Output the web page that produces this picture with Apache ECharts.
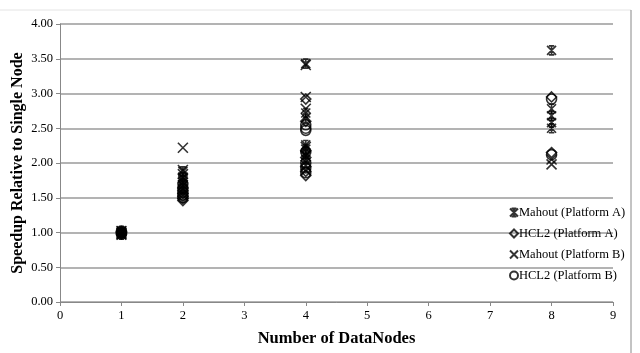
<!DOCTYPE html>
<html><head><meta charset="utf-8">
<script src="https://cdn.jsdelivr.net/npm/echarts@6/dist/echarts.min.js"></script>
<style>html,body{margin:0;padding:0;background:#fff}#c{width:640px;height:353px}</style>
</head><body><div id="c"></div>
<script>
var seriesNames = ['Mahout (Platform A)', 'HCL2 (Platform A)', 'Mahout (Platform B)', 'HCL2 (Platform B)'];
var mahoutA = [[1,0.97],[1,1.0],[1,1.02],[2,1.88],[2,1.8],[2,1.75],[2,1.68],[2,1.62],[4,3.43],[4,2.72],[4,2.65],[4,2.26],[4,2.2],[4,2.12],[4,2.05],[8,3.62],[8,2.78],[8,2.68],[8,2.58],[8,2.5]];
var hcl2A = [[1,0.98],[1,1.0],[1,1.01],[2,1.64],[2,1.6],[2,1.56],[2,1.52],[2,1.49],[2,1.46],[4,2.92],[4,2.6],[4,2.18],[4,2.08],[4,1.95],[4,1.88],[4,1.82],[8,2.95],[8,2.15]];
var mahoutB = [[1,0.97],[1,0.99],[1,1.02],[2,2.22],[2,1.9],[2,1.84],[2,1.78],[2,1.72],[2,1.68],[4,3.41],[4,2.95],[4,2.78],[4,2.23],[4,2.1],[4,1.97],[4,1.9],[8,2.05],[8,1.98]];
var hcl2B = [[1,0.98],[1,1.0],[1,1.02],[2,1.7],[2,1.64],[2,1.58],[2,1.54],[2,1.5],[4,2.55],[4,2.5],[4,2.47],[4,2.16],[4,2.0],[4,1.93],[4,1.86],[8,2.92],[8,2.12]];
var yTicks = [0,0.5,1,1.5,2,2.5,3,3.5,4];

var font = 'Liberation Serif';
var symbols = [
  'path://M0,0L10,10M10,0L0,10M5,0L5,10M2,0L8,0M2,10L8,10',
  'diamond',
  'path://M0,0L10,10M10,0L0,10',
  'circle'
];
var sizes = [9, 10, 10, 10];
var datas = [mahoutA, hcl2A, mahoutB, hcl2B];
var chart = echarts.init(document.getElementById('c'));
chart.setOption({
  animation: false,
  backgroundColor: '#fff',
  textStyle: {fontFamily: font},
  graphic: [
    {type: 'line', shape: {x1: 0, y1: 10, x2: 631, y2: 10}, style: {stroke: '#e4e4e4', lineWidth: 1}},
    {type: 'line', shape: {x1: 631, y1: 10, x2: 631, y2: 353}, style: {stroke: '#888', lineWidth: 1}}
  ],
  grid: {left: 60, right: 27, top: 24, bottom: 51, containLabel: false, outerBoundsMode: 'none'},
  legend: {
    orient: 'vertical', left: 504, top: 201, itemGap: 8, itemWidth: 8, itemHeight: 8,
    data: seriesNames,
    textStyle: {fontFamily: font, fontSize: 12.5, color: '#000', padding: [0,0,0,-4]}
  },
  xAxis: {
    type: 'value', min: 0, max: 9, interval: 1,
    name: 'Number of DataNodes', nameLocation: 'middle', nameGap: 28, nameMoveOverlap: false,
    nameTextStyle: {fontFamily: font, fontSize: 16.5, fontWeight: 'bold', color: '#000'},
    axisLine: {show: true, lineStyle: {color: '#888'}},
    axisTick: {show: true, length: 4, lineStyle: {color: '#888'}},
    axisLabel: {fontFamily: font, fontSize: 12.5, color: '#000', margin: 7},
    splitLine: {show: false}
  },
  yAxis: {
    type: 'value', min: 0, max: 4, interval: 0.5,
    name: 'Speedup Relative to Single Node', nameLocation: 'middle', nameGap: 34, nameMoveOverlap: false,
    nameTextStyle: {fontFamily: font, fontSize: 16, fontWeight: 'bold', color: '#000'},
    axisLine: {show: true, lineStyle: {color: '#888'}},
    axisTick: {show: true, length: 4, lineStyle: {color: '#888'}},
    axisLabel: {fontFamily: font, fontSize: 12.5, color: '#000', margin: 7,
      formatter: function(v){ return yTicks.indexOf(v) >= 0 ? v.toFixed(2) : ''; }},
    splitLine: {show: true, lineStyle: {color: '#9a9a9a', width: 1.5}}
  },
  series: datas.map(function(d, i){
    return {
      name: seriesNames[i], type: 'scatter', data: d,
      symbol: symbols[i], symbolSize: sizes[i],
      itemStyle: {color: 'rgba(0,0,0,0)', borderColor: '#000', borderWidth: 1.6}
    };
  })
});
</script></body></html>
